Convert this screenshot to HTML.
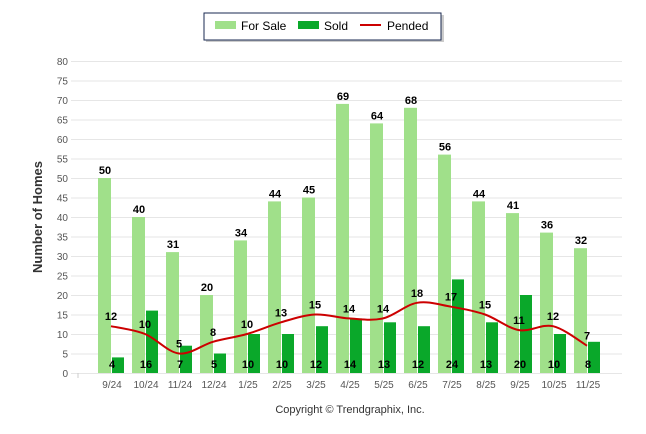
<!DOCTYPE html>
<html><head><style>body{margin:0;background:#fff}svg{display:block;font-family:"Liberation Sans",Arial,sans-serif}</style></head><body>
<svg width="646" height="434" xmlns="http://www.w3.org/2000/svg">
<rect x="206" y="15" width="238" height="27" fill="#999" opacity="0.5"/>
<rect x="204" y="13" width="237" height="27" fill="#fff" stroke="#1a2a50" stroke-width="1"/>
<rect x="215" y="21" width="21" height="8" fill="#a0e08a"/>
<text x="241" y="30" font-size="12" fill="#000">For Sale</text>
<rect x="298" y="21" width="21" height="8" fill="#0aa82a"/>
<text x="324" y="30" font-size="12" fill="#000">Sold</text>
<line x1="360" y1="25" x2="381" y2="25" stroke="#cc0000" stroke-width="2"/>
<text x="387" y="30" font-size="12" fill="#000">Pended</text>
<g id="grid" stroke="#e8e8e8" stroke-width="1"></g>
<g id="ylab" font-size="10" fill="#555" text-anchor="end"></g>
<g id="bars"></g>
<text transform="translate(42,217) rotate(-90)" font-size="13" font-weight="bold" fill="#333" text-anchor="middle">Number of Homes</text>
<text x="350" y="413" font-size="11" fill="#333" text-anchor="middle">Copyright © Trendgraphix, Inc.</text>
</svg>
<script>
const NS="http://www.w3.org/2000/svg";const s=document.querySelector('svg');
function el(t,a,txt){const e=document.createElementNS(NS,t);for(const k in a)e.setAttribute(k,a[k]);if(txt!==undefined)e.textContent=txt;s.appendChild(e);return e;}
const Y=v=>373-v*3.9;
for(let v=0;v<=80;v+=5){el('line',{x1:71,x2:622,y1:Y(v)+.5,y2:Y(v)+.5,stroke:'#e6e6e6'});el('text',{x:68,y:Y(v)+4,'font-size':10,fill:'#555','text-anchor':'end'},v);}
el('line',{x1:78,x2:78,y1:373,y2:378,stroke:'#ccc'});
const L=['9/24','10/24','11/24','12/24','1/25','2/25','3/25','4/25','5/25','6/25','7/25','8/25','9/25','10/25','11/25'];
const F=[50,40,31,20,34,44,45,69,64,68,56,44,41,36,32];
const So=[4,16,7,5,10,10,12,14,13,12,24,13,20,10,8];
const P=[12,10,5,8,10,13,15,14,14,18,17,15,11,12,7];
const pts=[];
L.forEach((l,i)=>{const c=111+i*34;
el('rect',{x:c-13,y:Y(F[i]),width:13,height:F[i]*3.9,fill:'#a0e08a'});
el('rect',{x:c+1,y:Y(So[i]),width:12,height:So[i]*3.9,fill:'#0aa82a'});
el('text',{x:c-6,y:Y(F[i])-4,'font-size':11,'font-weight':'bold','text-anchor':'middle'},F[i]);
el('text',{x:c+1,y:368,'font-size':11,'font-weight':'bold','text-anchor':'middle'},So[i]);
el('text',{x:c+1,y:388,'font-size':10,fill:'#555','text-anchor':'middle'},l);
pts.push([c,Y(P[i])]);});
let d='M'+pts[0];
for(let i=0;i<pts.length-1;i++){const p0=pts[i-1]||pts[i],p1=pts[i],p2=pts[i+1],p3=pts[i+2]||p2;
d+=` C${p1[0]+(p2[0]-p0[0])/6},${p1[1]+(p2[1]-p0[1])/6} ${p2[0]-(p3[0]-p1[0])/6},${p2[1]-(p3[1]-p1[1])/6} ${p2[0]},${p2[1]}`;}
el('path',{d:d,fill:'none',stroke:'#cc0000','stroke-width':2});
pts.forEach((p,i)=>el('text',{x:p[0],y:p[1]-6,'font-size':11,'font-weight':'bold','text-anchor':'middle'},P[i]));
</script>
</body></html>
